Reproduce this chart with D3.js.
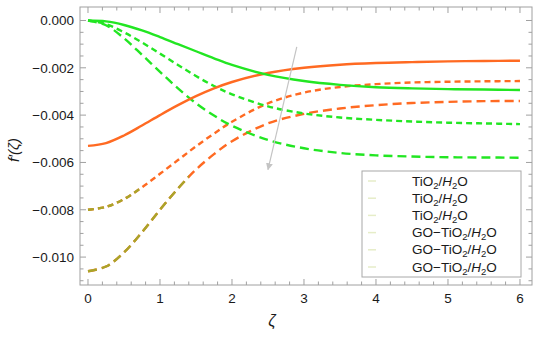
<!DOCTYPE html>
<html><head><meta charset="utf-8">
<script src="https://cdn.jsdelivr.net/npm/d3@7/dist/d3.min.js"></script>
<style>body{margin:0;background:#fff}svg{display:block}text{font-family:"Liberation Sans",Arial,sans-serif}</style>
</head><body><svg id="c" width="550" height="337"></svg>
<script>
const xs = [0,0.25,0.5,0.75,1,1.25,1.5,1.75,2,2.5,3,3.5,4,4.5,5,5.5,6];
// values in units of 1e-3
const greenSolid  = [0,-0.04,-0.19,-0.42,-0.70,-1.0,-1.3,-1.6,-1.88,-2.3,-2.56,-2.72,-2.82,-2.87,-2.9,-2.92,-2.94];
const greenDash1  = [0,-0.15,-0.5,-0.93,-1.4,-1.88,-2.35,-2.77,-3.12,-3.63,-3.93,-4.1,-4.2,-4.27,-4.32,-4.35,-4.38];
const greenDash2  = [0,-0.2,-0.75,-1.45,-2.17,-2.87,-3.5,-4.02,-4.45,-5.05,-5.4,-5.6,-5.7,-5.75,-5.78,-5.79,-5.8];
const orangeSolid = [-5.3,-5.18,-4.86,-4.44,-4.0,-3.58,-3.2,-2.87,-2.6,-2.22,-2.0,-1.87,-1.8,-1.76,-1.73,-1.71,-1.70];
const orangeDash1 = [-8.0,-7.88,-7.55,-7.05,-6.48,-5.9,-5.32,-4.78,-4.28,-3.5,-3.05,-2.81,-2.69,-2.62,-2.59,-2.57,-2.56];
const orangeDash2 = [-10.6,-10.4,-9.8,-8.95,-8.0,-7.1,-6.3,-5.65,-5.1,-4.35,-3.95,-3.72,-3.58,-3.49,-3.44,-3.41,-3.4];
const oliveCut = [0.72, 1.4];   // x where the olive start of the orange dashed curves ends
const arrowFrom = [2.9, -1.12], arrowTo = [2.5, -6.3];
const xTicks = [0,1,2,3,4,5,6];
const yTicks = [0,-2,-4,-6,-8,-10];
const legendLabels = ["TiO2/H2O","TiO2/H2O","TiO2/H2O","GO-TiO2/H2O","GO-TiO2/H2O","GO-TiO2/H2O"];

const svg = d3.select("#c");
const L=80,R=532,T=7,B=285;
const x = d3.scaleLinear().domain([-0.111,6.167]).range([L,R]);
const y = d3.scaleLinear().domain([-11.18,0.57]).range([B,T]);

const GREEN="#22e622", ORANGE="#ff6a22", OLIVE="#a9a52a", FRAME="#a0a0a0";

svg.append("rect").attr("x",L).attr("y",T).attr("width",R-L).attr("height",B-T)
  .attr("fill","none").attr("stroke",FRAME).attr("stroke-width",1);

const xMinor = d3.range(0,6.01,0.2).filter(v=>Math.abs(v-Math.round(v))>1e-6);
const yMinor = d3.range(0,-11.2,-0.5).filter(v=>Math.abs(v/2-Math.round(v/2))>1e-6);
const tg = svg.append("g").attr("stroke",FRAME).attr("stroke-width",1);
xTicks.forEach(v=>{ const px=x(v);
  tg.append("line").attr("x1",px).attr("x2",px).attr("y1",B).attr("y2",B-6);
  tg.append("line").attr("x1",px).attr("x2",px).attr("y1",T).attr("y2",T+6);});
xMinor.forEach(v=>{ const px=x(v);
  tg.append("line").attr("x1",px).attr("x2",px).attr("y1",B).attr("y2",B-3.5);
  tg.append("line").attr("x1",px).attr("x2",px).attr("y1",T).attr("y2",T+3.5);});
yTicks.forEach(v=>{ const py=y(v);
  tg.append("line").attr("x1",L).attr("x2",L+6).attr("y1",py).attr("y2",py);
  tg.append("line").attr("x1",R).attr("x2",R-6).attr("y1",py).attr("y2",py);});
yMinor.forEach(v=>{ const py=y(v);
  tg.append("line").attr("x1",L).attr("x2",L+3.5).attr("y1",py).attr("y2",py);
  tg.append("line").attr("x1",R).attr("x2",R-3.5).attr("y1",py).attr("y2",py);});

xTicks.forEach(v=>svg.append("text").attr("x",x(v)).attr("y",302.5).attr("text-anchor","middle")
  .attr("font-size",13.5).attr("fill","#1a1a1a").text(v));
const fmt = d3.format(".3f");
yTicks.forEach(v=>svg.append("text").attr("x",74).attr("y",y(v)+5).attr("text-anchor","end")
  .attr("font-size",13.5).attr("fill","#1a1a1a").text(fmt(v/1000)));

svg.append("text").attr("transform","translate(19,150) rotate(-90)").attr("text-anchor","middle")
  .attr("font-size",15).attr("font-style","italic").attr("fill","#1a1a1a").text("f\u2032(\u03b6)");
svg.append("text").attr("x",272).attr("y",326).attr("text-anchor","middle")
  .attr("font-size",16).attr("font-style","italic").attr("fill","#1a1a1a").text("\u03b6");

const line = d3.line().x((d,i)=>x(xs[i])).y(d=>y(d)).curve(d3.curveCatmullRom.alpha(0.5));
const cg = svg.append("g").attr("fill","none").attr("stroke-width",2.4);
const defs = svg.append("defs");
oliveCut.forEach((c,i)=>defs.append("clipPath").attr("id","oc"+i).append("rect")
  .attr("x",L).attr("y",T).attr("width",x(c)-L).attr("height",B-T));

const series = [
  {d:orangeDash2,c:ORANGE,dash:"9,5"},
  {d:orangeDash1,c:ORANGE,dash:"6,4"},
  {d:greenDash2,c:GREEN,dash:"9,5"},
  {d:greenDash1,c:GREEN,dash:"6,4"},
  {d:orangeSolid,c:ORANGE,dash:null},
  {d:greenSolid,c:GREEN,dash:null}
];
series.forEach(s=>{ const p=cg.append("path").attr("d",line(s.d)).attr("stroke",s.c);
  if(s.dash) p.attr("stroke-dasharray",s.dash);});
[[orangeDash1,"6,4",0],[orangeDash2,"9,5",1]].forEach(([d,dash,i])=>{
  cg.append("path").attr("d",line(d)).attr("stroke",OLIVE).attr("stroke-dasharray",dash)
    .attr("clip-path","url(#oc"+i+")");});

defs.append("marker").attr("id","ah").attr("viewBox","0 0 10 10").attr("refX",9).attr("refY",5)
  .attr("markerWidth",7).attr("markerHeight",9).attr("markerUnits","userSpaceOnUse").attr("orient","auto")
  .append("path").attr("d","M0,0L10,5L0,10Z").attr("fill","#c4c4c4");
svg.append("line").attr("x1",x(arrowFrom[0])).attr("y1",y(arrowFrom[1]))
  .attr("x2",x(arrowTo[0])).attr("y2",y(arrowTo[1]))
  .attr("stroke","#c4c4c4").attr("stroke-width",1.2).attr("marker-end","url(#ah)");

const lg = svg.append("g");
lg.append("rect").attr("x",362).attr("y",171).attr("width",159).attr("height",106)
  .attr("fill","#fff").attr("stroke","#a8a8a8").attr("stroke-width",1);
legendLabels.forEach((lab,i)=>{
  const cy = 181 + i*17.2;
  lg.append("line").attr("x1",368).attr("x2",376).attr("y1",cy).attr("y2",cy)
    .attr("stroke","#e6edc8").attr("stroke-width",1.5);
  const t = lg.append("text").attr("x",412).attr("y",cy+4.5).attr("font-size",13.5).attr("fill","#1a1a1a");
  const pre = lab.replace("TiO2/H2O","");
  t.append("tspan").text(pre.replace("-","\u2212")+"TiO");
  t.append("tspan").attr("font-size",9.5).attr("dy",3).text("2");
  t.append("tspan").attr("dy",-3).text("/");
  t.append("tspan").attr("font-style","italic").text("H");
  t.append("tspan").attr("font-size",9.5).attr("dy",3).text("2");
  t.append("tspan").attr("dy",-3).text("O");
});
</script></body></html>
